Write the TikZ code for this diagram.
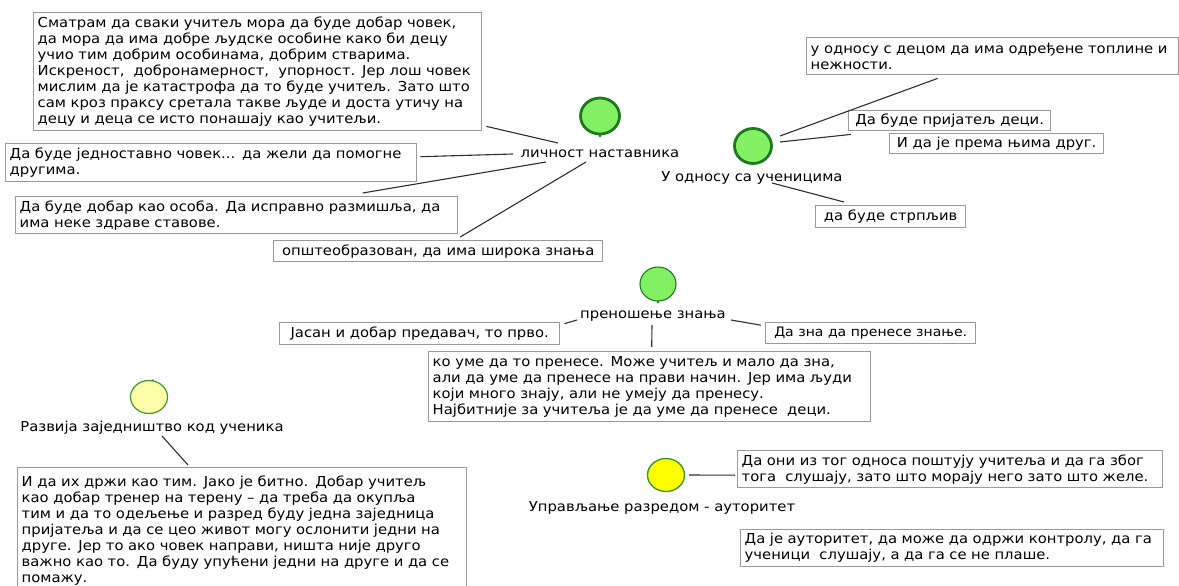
\documentclass[tikz,border=0pt]{standalone}
\usepackage{fontspec}
\setmainfont[FakeStretch=1.08]{DejaVu Sans}
\usetikzlibrary{calc,shapes.geometric}
\definecolor{boxline}{HTML}{9A9A9A}
\definecolor{linkline}{HTML}{2E2E2E}
\definecolor{leafgreen}{HTML}{82F062}
\definecolor{darkleaf}{HTML}{1E7A1E}
\definecolor{paleyellow}{HTML}{FFFFAA}
\definecolor{brightyellow}{HTML}{FFFF00}
\definecolor{rimgreen}{HTML}{3C9A2A}
\tikzset{
  txt/.style={font=\fontsize{13.7}{16}\selectfont},
  tbox/.style={txt, draw=boxline, line width=1.4pt, fill=white, anchor=north west,
               inner xsep=4pt, inner ysep=0pt, align=left},
  onebox/.style={txt, draw=boxline, line width=1.4pt, fill=white, anchor=north west,
               inner xsep=1pt, inner ysep=0pt},
  topic/.style={txt, inner sep=1pt},
  link/.style={draw=linkline, line width=1.1pt},
  bubble/.style={ellipse, inner sep=0pt},
  greenthick/.style={bubble, fill=leafgreen, draw=darkleaf, line width=2.8pt},
  greenthin/.style={bubble, fill=leafgreen, draw=darkleaf, line width=1.1pt},
  paleball/.style={bubble, fill=paleyellow, draw=rimgreen, line width=1.2pt},
  yellowball/.style={bubble, fill=brightyellow, draw=rimgreen, line width=1.4pt}
}
\begin{document}
\begin{tikzpicture}[x=1pt,y=-1pt]
\useasboundingbox (0,0) rectangle (1179,586);

% --- личност наставника ---
\node[greenthick, minimum width=39pt, minimum height=36pt] (c1) at (600,116) {};
\fill[darkleaf] ($(c1.south)+(0,0.5)$) circle (1.5);
\node[topic] (lbl1) at (600,154) {личност наставника};

\node[tbox, minimum height=118pt, text width=440pt] (box1) at (33,12)
 {Сматрам да сваки учитељ мора да буде добар човек,\\
  да мора да има добре људске особине како би децу\\
  учио тим добрим особинама, добрим стварима.\\
  Искреност,\ \ добронамерност,\ \ упорност. Јер лош човек\\
  мислим да је катастрофа да то буде учитељ. Зато што\\
  сам кроз праксу сретала такве људе и доста утичу на\\
  децу и деца се исто понашају као учитељи.};
\node[tbox, minimum height=38pt, text width=403pt] (box2) at (5,143)
 {Да буде једноставно човек... да жели да помогне\\ другима.};
\node[tbox, minimum height=37pt, text width=434pt] (box3) at (15,196)
 {Да буде добар као особа. Да исправно размишља, да\\ има неке здраве ставове.};
\node[onebox, minimum height=21pt, minimum width=329pt] (box4) at (273,240)
 {општеобразован, да има широка знања};

\draw[link] ($(box1.south east)+(4,-5)$) -- ($(lbl1.center)+(-42,-11)$);
\draw[link] ($(box2.east)+(3,-6)$) -- ($(lbl1.center)+(-87,0)$);
\draw[link] ($(box3.north)+(126,-3)$) -- ($(lbl1.center)+(-54,8)$);
\draw[link] ($(box4.north)+(22,-3)$) -- ($(lbl1.center)+(-14,8)$);

% --- У односу са ученицима ---
\node[greenthick, minimum width=37pt, minimum height=35pt] (c2) at (753,146) {};
\node[topic] (lbl2) at (752,178) {У односу са ученицима};
\node[tbox, minimum height=37pt, text width=364pt] (box5) at (806,37)
 {у односу с децом да има одређене топлине и\\ нежности.};
\node[onebox, minimum height=20pt, minimum width=202pt] (box6) at (848,110)
 {Да буде пријатељ деци.};
\node[onebox, minimum height=20pt, minimum width=214pt] (box7) at (889,133)
 {И да је према њима друг.};
\node[onebox, minimum height=22pt, minimum width=150pt] (box8) at (815,205)
 {да буде стрпљив};

\draw[link] ($(c2.center)+(27,-10)$) -- ($(box5.south)+(-55,3)$);
\draw[link] ($(c2.center)+(27,-4)$) -- ($(box6.south west)+(3,3)$);
\draw[link] ($(lbl2.center)+(20,5)$) -- ($(box8.north west)+(29,-3)$);

% --- преношење знања ---
\node[greenthin, minimum width=36pt, minimum height=34pt] (c3) at (658,284) {};
\fill[darkleaf] ($(c3.south)+(0,0.5)$) circle (1.4);
\node[topic] (lbl3) at (653,316) {преношење знања};
\node[onebox, minimum height=22pt, minimum width=280pt] (box9) at (279,322)
 {Јасан и добар предавач, то прво.};
\node[onebox, minimum height=21pt, minimum width=210pt,
      font=\fontsize{13}{16}\selectfont] (box10) at (765,322)
 {Да зна да пренесе знање.};
\node[tbox, minimum height=70pt, text width=434pt] (box11) at (428,351)
 {ко уме да то пренесе. Може учитељ и мало да зна,\\
  али да уме да пренесе на прави начин. Јер има људи\\
  који много знају, али не умеју да пренесу.\\
  Најбитније за учитеља је да уме да пренесе\ \ деци.};

\draw[link] ($(box9.east)+(4,-10)$) -- ($(lbl3.center)+(-76,4)$);
\draw[link] ($(lbl3.center)+(78,4)$) -- ($(box10.west)+(-4,-8)$);
\draw[link] ($(lbl3.center)+(-1,9)$) -- ($(box11.north)+(2,-4)$);

% --- Развија заједништво код ученика ---
\node[paleball, minimum width=37pt, minimum height=33pt] (c4) at (149,397) {};
\fill[rimgreen] ($(c4.north)+(4,0.5)$) circle (1.3);
\node[topic] (lbl4) at (152,428) {Развија заједништво код ученика};
\node[tbox, minimum height=126pt, text width=441pt] (box12) at (17,467)
 {И да их држи као тим. Јако је битно. Добар учитељ\\
  као добар тренер на терену – да треба да окупља\\
  тим и да то одељење и разред буду једна заједница\\
  пријатеља и да се цео живот могу ослонити једни на\\
  друге. Јер то ако човек направи, ништа није друго\\
  важно као то. Да буду упућени једни на друге и да се\\
  помажу.\\[2pt]};

\draw[link] ($(lbl4.center)+(10,8)$) -- ($(box12.north west)+(171,-2)$);

% --- Управљање разредом - ауторитет ---
\node[yellowball, minimum width=37pt, minimum height=33pt] (c5) at (666,475) {};
\node[topic] (lbl5) at (662,508) {Управљање разредом - ауторитет};
\node[tbox, minimum height=37pt, text width=417pt] (box13) at (737,450)
 {Да они из тог односа поштују учитеља и да га због\\
  тога\ \ слушају, зато што морају него зато што желе.};
\node[tbox, minimum height=37pt, text width=415pt] (box14) at (740,529)
 {Да је ауторитет, да може да одржи контролу, да га\\
  ученици\ \ слушају, а да га се не плаше.};

\draw[link] ($(c5.east)+(4,0)$) -- ($(box13.west)+(-2,6)$);
\end{tikzpicture}
\end{document}
